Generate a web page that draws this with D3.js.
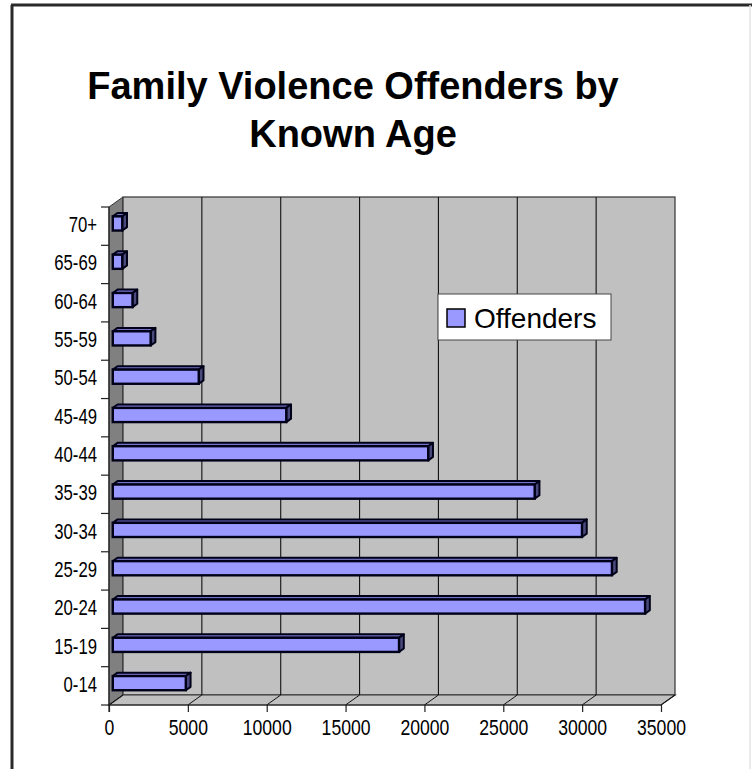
<!DOCTYPE html>
<html><head><meta charset="utf-8">
<script src="https://cdn.jsdelivr.net/npm/d3@7"></script>
<style>html,body{margin:0;padding:0;background:#fff;}svg{display:block;}</style>
</head><body>
<script>
const categories = ["0-14","15-19","20-24","25-29","30-34","35-39","40-44","45-49","50-54","55-59","60-64","65-69","70+"];
const offenders = [4630, 18150, 33750, 31650, 29750, 26750, 20000, 11000, 5450, 2400, 1250, 600, 600];
const xTicks = [0, 5000, 10000, 15000, 20000, 25000, 30000, 35000];
const seriesName = "Offenders";
const titleLines = ["Family Violence Offenders by", "Known Age"];

const W = 756, H = 769;
const svg = d3.select("body").append("svg").attr("width", W).attr("height", H);
const font = "'Liberation Sans', Arial, sans-serif";

// frame
svg.append("line").attr("x1",12).attr("y1",5).attr("x2",12).attr("y2",H).attr("stroke","#2a2a2a").attr("stroke-width",3);
svg.append("line").attr("x1",11).attr("y1",5).attr("x2",752).attr("y2",5).attr("stroke","#2a2a2a").attr("stroke-width",3);
svg.append("line").attr("x1",750).attr("y1",5).attr("x2",750).attr("y2",H).attr("stroke","#e4e4e4").attr("stroke-width",1.5);

// title
titleLines.forEach((t,i)=>{
  svg.append("text").attr("x",353).attr("y",99+i*48).attr("text-anchor","middle")
    .attr("font-family",font).attr("font-weight","bold").attr("font-size",38).attr("fill","#000").text(t);
});

// geometry
const x0 = 109, x1 = 661, yTop = 207, yBot = 705;
const DX = 14, DY = -10; // depth offset
const x = d3.scaleLinear().domain([0,35000]).range([x0,x1]);
const y = d3.scaleBand().domain(categories).range([yBot,yTop]).paddingInner(0.63).paddingOuter(0.315);

// side wall
svg.append("polygon").attr("points",[[x0,yTop],[x0+DX,yTop+DY],[x0+DX,yBot+DY],[x0,yBot]].join(" "))
  .attr("fill","#808080").attr("stroke","#333").attr("stroke-width",1);
// back wall
svg.append("rect").attr("x",x0+DX).attr("y",yTop+DY).attr("width",x1-x0).attr("height",yBot-yTop)
  .attr("fill","#c0c0c0").attr("stroke","#333").attr("stroke-width",1.2);
// floor
svg.append("polygon").attr("points",[[x0,yBot],[x0+DX,yBot+DY],[x1+DX,yBot+DY],[x1,yBot]].join(" "))
  .attr("fill","#c0c0c0").attr("stroke","#333").attr("stroke-width",1.2);

// gridlines on back wall + floor diagonals
xTicks.filter(v=>v>0 && v<35000).forEach(v=>{
  svg.append("line").attr("x1",x(v)+DX).attr("x2",x(v)+DX).attr("y1",yTop+DY).attr("y2",yBot+DY).attr("stroke","#111").attr("stroke-width",1.1);
});
xTicks.forEach(v=>{
  svg.append("line").attr("x1",x(v)+DX).attr("x2",x(v)).attr("y1",yBot+DY).attr("y2",yBot).attr("stroke","#111").attr("stroke-width",1);
});

// bars
const f1 = 0.27, f2 = 0.34;
const fx = DX*f1, fy = DY*f1, tx = DX*f2, ty = DY*f2;
const cFront = "#9999ff", cTop = "#7373c6", cSide = "#4a4a7c";
const bars = svg.append("g");
categories.map((c,i)=>({c, v:offenders[i]})).reverse().forEach(d=>{
  const bx = x(0)+fx, by = y(d.c)+fy, bw = x(d.v)-x(0), bh = y.bandwidth();
  const g = bars.append("g");
  g.append("polygon").attr("points",[[bx,by],[bx+tx,by+ty],[bx+bw+tx,by+ty],[bx+bw,by]].join(" "))
    .attr("fill",cTop).attr("stroke","#000018").attr("stroke-width",2).attr("stroke-linejoin","round");
  g.append("polygon").attr("points",[[bx+bw,by],[bx+bw+tx,by+ty],[bx+bw+tx,by+bh+ty],[bx+bw,by+bh]].join(" "))
    .attr("fill",cSide).attr("stroke","#000018").attr("stroke-width",2).attr("stroke-linejoin","round");
  g.append("rect").attr("x",bx).attr("y",by).attr("width",bw).attr("height",bh)
    .attr("fill",cFront).attr("stroke","#000018").attr("stroke-width",2.4);
});

// front y axis line
svg.append("line").attr("x1",x0).attr("x2",x0).attr("y1",yTop).attr("y2",yBot+7).attr("stroke","#222").attr("stroke-width",1.2);
svg.append("line").attr("x1",x0-1).attr("x2",x1).attr("y1",yBot).attr("y2",yBot).attr("stroke","#222").attr("stroke-width",1.2);

// y ticks at band boundaries
const step = y.step();
d3.range(categories.length+1).forEach(k=>{
  const yy = yBot - k*step;
  svg.append("line").attr("x1",x0-8).attr("x2",x0).attr("y1",yy).attr("y2",yy).attr("stroke","#222").attr("stroke-width",1.2);
});
// y labels
categories.forEach(c=>{
  const cy = y(c)+y.bandwidth()/2;
  svg.append("text").attr("transform",`translate(97,${cy+6}) scale(0.76,1)`)
    .attr("text-anchor","end").attr("font-family",font).attr("font-size",22).attr("fill","#000").text(c);
});

// x axis
const xAxis = d3.axisBottom(x).tickValues(xTicks).tickSize(7).tickFormat(d3.format("d"));
const ax = svg.append("g").attr("transform",`translate(0,${yBot})`).call(xAxis);
ax.select(".domain").remove();
ax.selectAll(".tick line").attr("stroke","#222").attr("stroke-width",1.2);
ax.selectAll(".tick text").attr("y",30).attr("dy",null).attr("transform","scale(0.8,1)")
  .attr("font-family",font).attr("font-size",22).attr("fill","#000");

// legend
const lg = svg.append("g");
lg.append("rect").attr("x",438).attr("y",294).attr("width",173).attr("height",46).attr("fill","#fff").attr("stroke","#444").attr("stroke-width",1);
lg.append("rect").attr("x",447).attr("y",309).attr("width",18).attr("height",18).attr("fill",cFront).attr("stroke","#000").attr("stroke-width",1.5);
lg.append("text").attr("x",474).attr("y",328).attr("font-family",font).attr("font-size",28).attr("fill","#000").text(seriesName);
</script>
</body></html>
